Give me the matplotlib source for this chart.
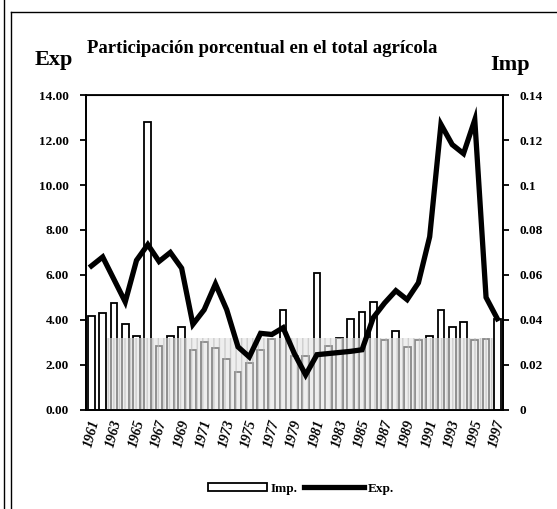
import numpy as np
import matplotlib.pyplot as plt
from matplotlib.lines import Line2D

# Datos
years = list(range(1961, 1998))
imp = [0.0415, 0.043, 0.0475, 0.038, 0.033, 0.128, 0.0285, 0.033, 0.037, 0.0265,
       0.030, 0.0275, 0.0225, 0.017, 0.021, 0.0265, 0.0315, 0.0445, 0.024, 0.024,
       0.061, 0.0285, 0.032, 0.0405, 0.0435, 0.048, 0.031, 0.035, 0.028, 0.031,
       0.033, 0.0445, 0.037, 0.039, 0.031, 0.0315, 0.0405]
exp = [6.4, 6.8, 5.8, 4.8, 6.65, 7.35, 6.6, 7.0, 6.3, 3.8,
       4.45, 5.6, 4.45, 2.8, 2.35, 3.4, 3.35, 3.65, 2.5, 1.55,
       2.45, 2.5, 2.55, 2.6, 2.67, 4.1, 4.75, 5.3, 4.9, 5.65,
       7.7, 12.7, 11.8, 11.4, 12.9, 5.0, 4.05]
left_ticks = [0, 2, 4, 6, 8, 10, 12, 14]
right_ticks = [0, 0.02, 0.04, 0.06, 0.08, 0.1, 0.12, 0.14]
band_height = 3.2  # sombreado gris del escaneo

serif = 'Liberation Serif'

fig = plt.figure(figsize=(5.57, 5.09), dpi=100)
ax = fig.add_axes([0.154, 0.195, 0.749, 0.618])
ax2 = ax.twinx()

# barras (Imp.) en el eje derecho
ax2.bar(years, imp, width=0.6, color='white', edgecolor='black', linewidth=1.3, zorder=2)
ax2.set_ylim(0, 0.14)
ax2.set_yticks(right_ticks)
ax2.set_yticklabels(['%g' % t for t in right_ticks])

# banda gris de fondo
ax2.fill_between([years[1] + 0.4, years[-2] + 0.6], 0, band_height / 100,
                 facecolor='#e4e4e4', edgecolor='#b8b8b8', hatch='|||',
                 linewidth=0, alpha=0.6, zorder=3)

# linea (Exp.) en el eje izquierdo, dibujada encima
ax.set_zorder(ax2.get_zorder() + 1)
ax.patch.set_visible(False)
ax.plot(years, exp, color='black', linewidth=3.8, solid_joinstyle='miter', zorder=4)
ax.set_ylim(0, 14)
ax.set_yticks(left_ticks)
ax.set_yticklabels(['%.2f' % t for t in left_ticks])
ax.set_xlim(years[0] - 0.5, years[-1] + 0.5)
ax.set_xticks(years[::2])
ax.set_xticklabels([str(y) for y in years[::2]], rotation=75, ha='center', va='top',
                   fontfamily=serif, fontweight='bold', fontstyle='italic', fontsize=10)
ax.tick_params(axis='x', length=0, pad=6)

for a in (ax, ax2):
    for s in a.spines.values():
        s.set_linewidth(1.3)
    a.tick_params(axis='y', length=4, width=1.3, labelsize=9.5, pad=8)
    for lab in a.get_yticklabels():
        lab.set_fontfamily(serif)
        lab.set_fontweight('bold')
ax.spines['top'].set_linewidth(0.8)

# titulos
fig.text(0.47, 0.895, 'Participación porcentual en el total agrícola', ha='center',
         fontfamily=serif, fontweight='bold', fontsize=13.5)
fig.text(0.063, 0.872, 'Exp', fontfamily=serif, fontweight='bold', fontsize=16)
fig.text(0.88, 0.862, 'Imp', fontfamily=serif, fontweight='bold', fontsize=16)

# leyenda
handles = [plt.Rectangle((0, 0), 1, 1, facecolor='white', edgecolor='black', linewidth=1.3),
           Line2D([0], [0], color='black', linewidth=3.8)]
leg = fig.legend(handles, ['Imp.', 'Exp.'], loc='center', bbox_to_anchor=(0.54, 0.04),
                 ncol=2, frameon=False, handlelength=4.5, handleheight=0.6,
                 columnspacing=0.5, handletextpad=0.3,
                 prop={'family': serif, 'weight': 'bold', 'size': 9.5})

# marco exterior
fig.add_artist(Line2D([0.007, 0.007], [0, 1], color='black', linewidth=1.0))
fig.add_artist(Line2D([0.02, 0.02], [0, 0.976], color='black', linewidth=1.0))
fig.add_artist(Line2D([0.02, 1], [0.976, 0.976], color='black', linewidth=1.0))

fig.savefig('out.png', dpi=100)
